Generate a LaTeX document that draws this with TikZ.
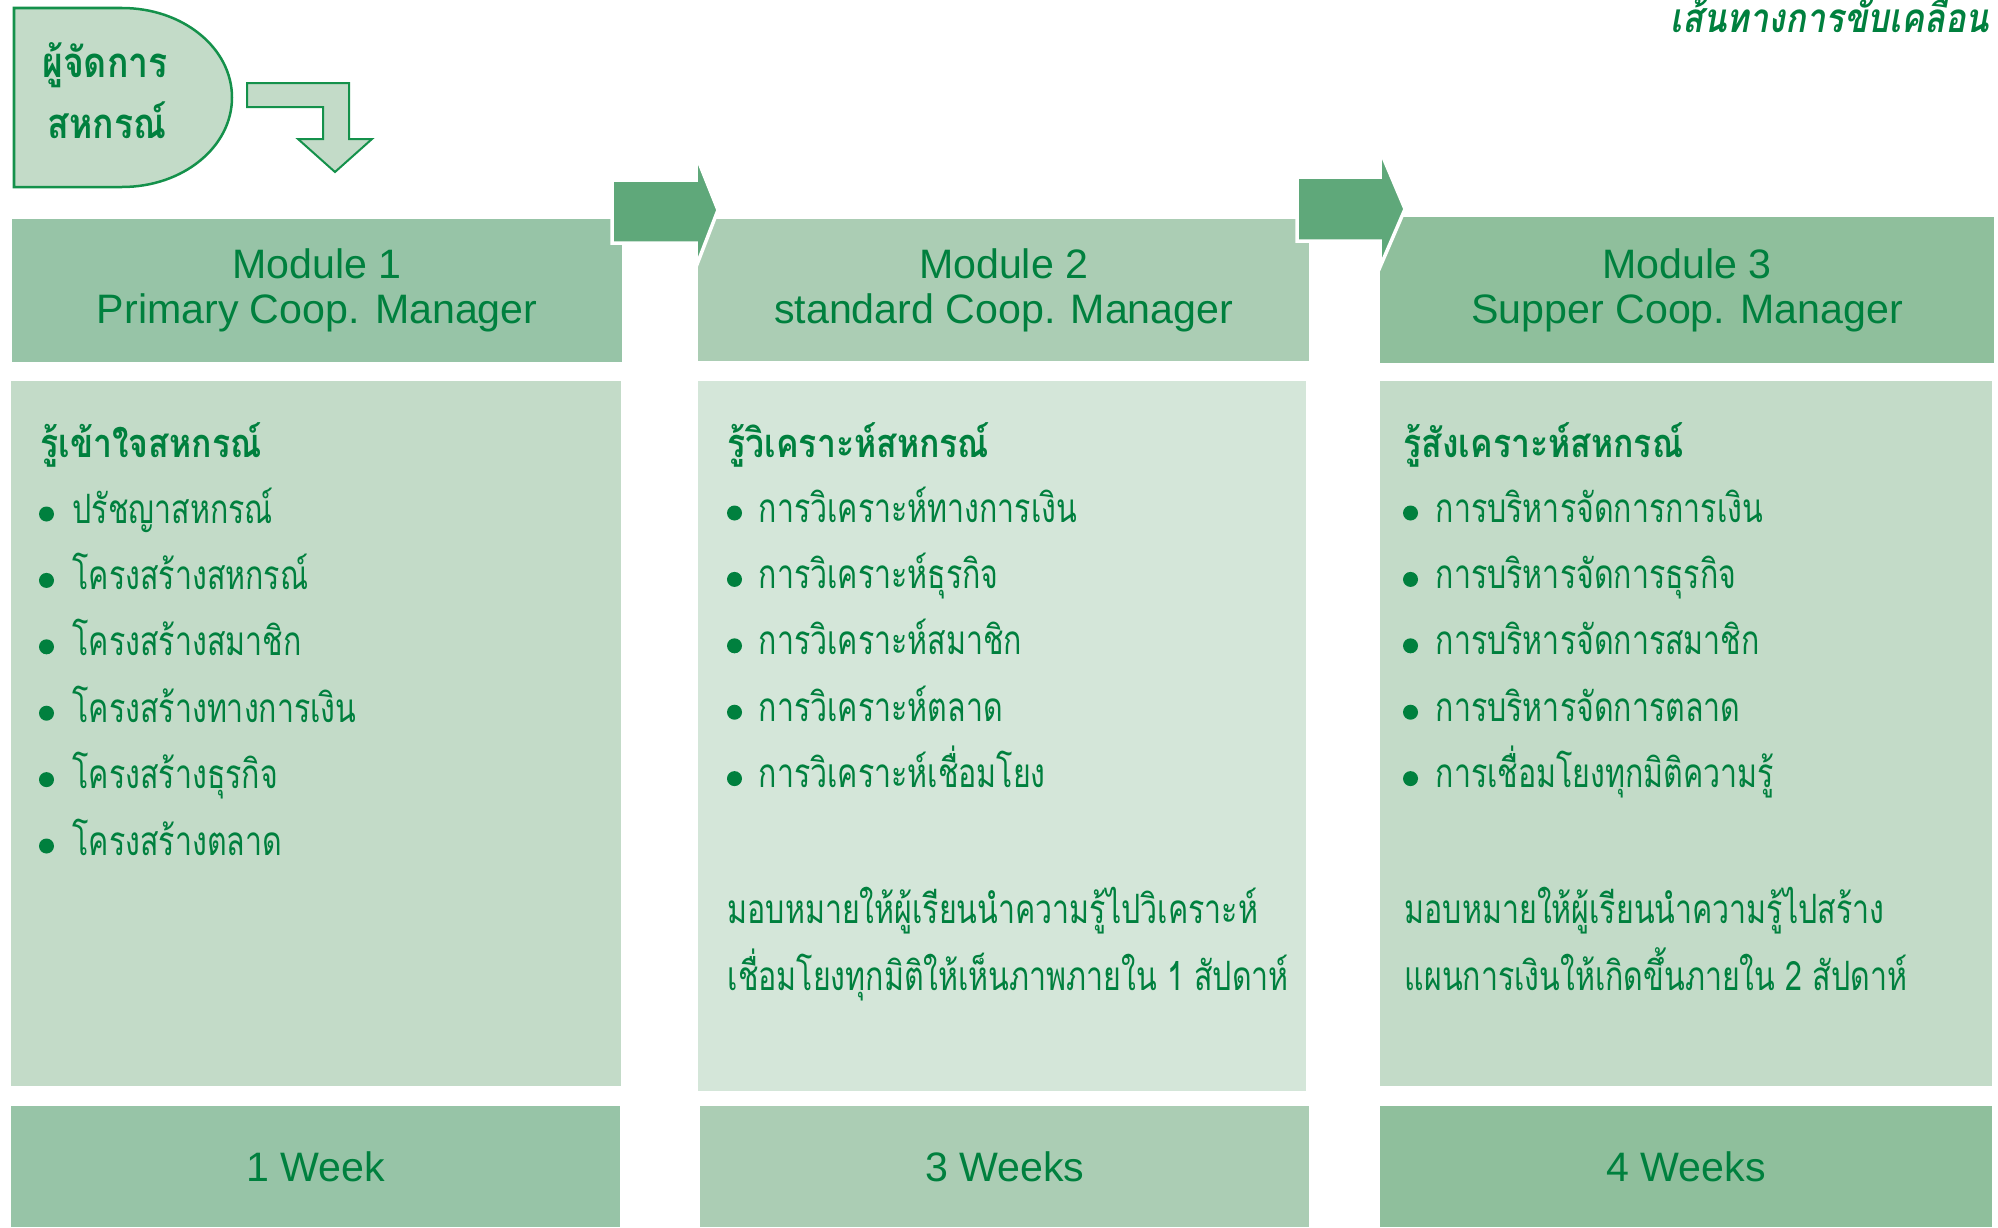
\documentclass[tikz,border=0pt]{standalone}
\usepackage{fontspec}
\setmainfont{Liberation Sans}
\newfontfamily\thaifont[Script=Thai,FakeStretch=0.75]{Loma}
\newfontfamily\thaibold[Script=Thai,FakeStretch=0.85]{Loma}
\usetikzlibrary{positioning}

\definecolor{txtgreen}{RGB}{0,128,62}
\definecolor{hdrA}{RGB}{151,196,167}
\definecolor{hdrB}{RGB}{171,205,180}
\definecolor{hdrC}{RGB}{143,191,156}
\definecolor{panA}{RGB}{195,219,200}
\definecolor{panB}{RGB}{212,230,217}
\definecolor{arrgreen}{RGB}{95,168,122}
\definecolor{linegreen}{RGB}{20,145,75}

\begin{document}
\begin{tikzpicture}[x=0.01cm,y=-0.01cm,
  box/.style={anchor=north west,inner sep=0,outer sep=0,draw=none},
  modtext/.style={text=txtgreen,align=center,font=\fontsize{11.7}{12.8}\selectfont,
    execute at begin node={\rule{0pt}{10pt}}},
  weektext/.style={text=txtgreen,font=\fontsize{11.7}{14}\selectfont},
  headline/.style={anchor=base west,inner sep=0,text=txtgreen,font=\thaibold\bfseries\fontsize{11.3}{14}\selectfont},
  itemline/.style={anchor=base west,inner sep=0,text=txtgreen,font=\thaifont\fontsize{11.5}{14}\selectfont},
  badgetext/.style={anchor=base,inner sep=0,text=txtgreen,font=\thaibold\bfseries\fontsize{11.9}{14}\selectfont},
  stepper/.style={fill=arrgreen,draw=white,line width=0.035cm,line join=miter}]
\useasboundingbox (0,0) rectangle (1998,1227);

% manager badge
\draw[fill=panA,draw=linegreen,line width=0.025cm] (14,8) -- (122,8)
  .. controls (183,8) and (232,48) .. (232,97.5)
  .. controls (232,147) and (183,187) .. (122,187) -- (14,187) -- cycle;
\node[badgetext] (mgr1) at (105,77) {ผู้จัดการ};
\node[badgetext] (mgr2) at (107,138) {สหกรณ์};
\draw[fill=panA,draw=linegreen,line width=0.02cm] (247,83) -- (349,83) -- (349,139) -- (372,139)
  -- (335,172) -- (298,139) -- (323,139) -- (323,107) -- (247,107) -- cycle;

% title
\node[anchor=base east,inner sep=0,text=txtgreen,font=\thaibold\bfseries\itshape\fontsize{11.5}{14}\selectfont] (title) at (1990,32) {เส้นทางการขับเคลื่อน};

% module headers
\node[box,fill=hdrA,minimum width=6.10cm,minimum height=1.43cm,modtext] (hdr1) at (12,219) {Module 1\\Primary Coop. Manager};
\node[box,fill=hdrB,minimum width=6.11cm,minimum height=1.42cm,modtext] (hdr2) at (698,219) {Module 2\\standard Coop. Manager};
\node[box,fill=hdrC,minimum width=6.14cm,minimum height=1.46cm,modtext] (hdr3) at (1380,217) {Module 3\\Supper Coop. Manager};

% step arrows
\draw[stepper] (612,180) -- (696,180) -- (696,155) -- (718,210) -- (696,267) -- (696,243) -- (612,243) -- cycle;
\draw[stepper] (1297,177) -- (1380,177) -- (1380,150) -- (1405,209) -- (1380,267) -- (1380,241) -- (1297,241) -- cycle;

% panels
\node[box,fill=panA,minimum width=6.10cm,minimum height=7.05cm] (pan1) at (11,381) {};
\node[box,fill=panB,minimum width=6.08cm,minimum height=7.10cm] (pan2) at (698,381) {};
\node[box,fill=panA,minimum width=6.12cm,minimum height=7.05cm] (pan3) at (1380,381) {};

% weeks
\node[box,fill=hdrA,minimum width=6.09cm,minimum height=1.21cm,weektext] (wk1) at (11,1106) {1 Week};
\node[box,fill=hdrB,minimum width=6.09cm,minimum height=1.21cm,weektext] (wk2) at (700,1106) {3 Weeks};
\node[box,fill=hdrC,minimum width=6.12cm,minimum height=1.21cm,weektext] (wk3) at (1380,1106) {4 Weeks};

% column 1
\node[headline] (head1) at (40,457) {รู้เข้าใจสหกรณ์};
\foreach \t [count=\i from 0] in {ปรัชญาสหกรณ์,โครงสร้างสหกรณ์,โครงสร้างสมาชิก,โครงสร้างทางการเงิน,โครงสร้างธุรกิจ,โครงสร้างตลาด}{
  \fill[txtgreen] (46.5,514+66.4*\i) circle (7.5);
  \node[itemline] (one\i) at (72,523+66.4*\i) {\t};
}

% column 2
\node[headline] (head2) at (727,457) {รู้วิเคราะห์สหกรณ์};
\foreach \t [count=\i from 0] in {การวิเคราะห์ทางการเงิน,การวิเคราะห์ธุรกิจ,การวิเคราะห์สมาชิก,การวิเคราะห์ตลาด,การวิเคราะห์เชื่อมโยง}{
  \fill[txtgreen] (734.5,513+66.4*\i) circle (7.5);
  \node[itemline] (two\i) at (758,522+66.4*\i) {\t};
}
\node[itemline] (note2a) at (727,923) {มอบหมายให้ผู้เรียนนำความรู้ไปวิเคราะห์};
\node[itemline] (note2b) at (727,990) {เชื่อมโยงทุกมิติให้เห็นภาพภายใน 1 สัปดาห์};

% column 3
\node[headline] (head3) at (1403,457) {รู้สังเคราะห์สหกรณ์};
\foreach \t [count=\i from 0] in {การบริหารจัดการการเงิน,การบริหารจัดการธุรกิจ,การบริหารจัดการสมาชิก,การบริหารจัดการตลาด,การเชื่อมโยงทุกมิติความรู้}{
  \fill[txtgreen] (1410.5,513+66.4*\i) circle (7.5);
  \node[itemline] (three\i) at (1435,522+66.4*\i) {\t};
}
\node[itemline] (note3a) at (1404,923) {มอบหมายให้ผู้เรียนนำความรู้ไปสร้าง};
\node[itemline] (note3b) at (1404,990) {แผนการเงินให้เกิดขึ้นภายใน 2 สัปดาห์};
\end{tikzpicture}
\end{document}
